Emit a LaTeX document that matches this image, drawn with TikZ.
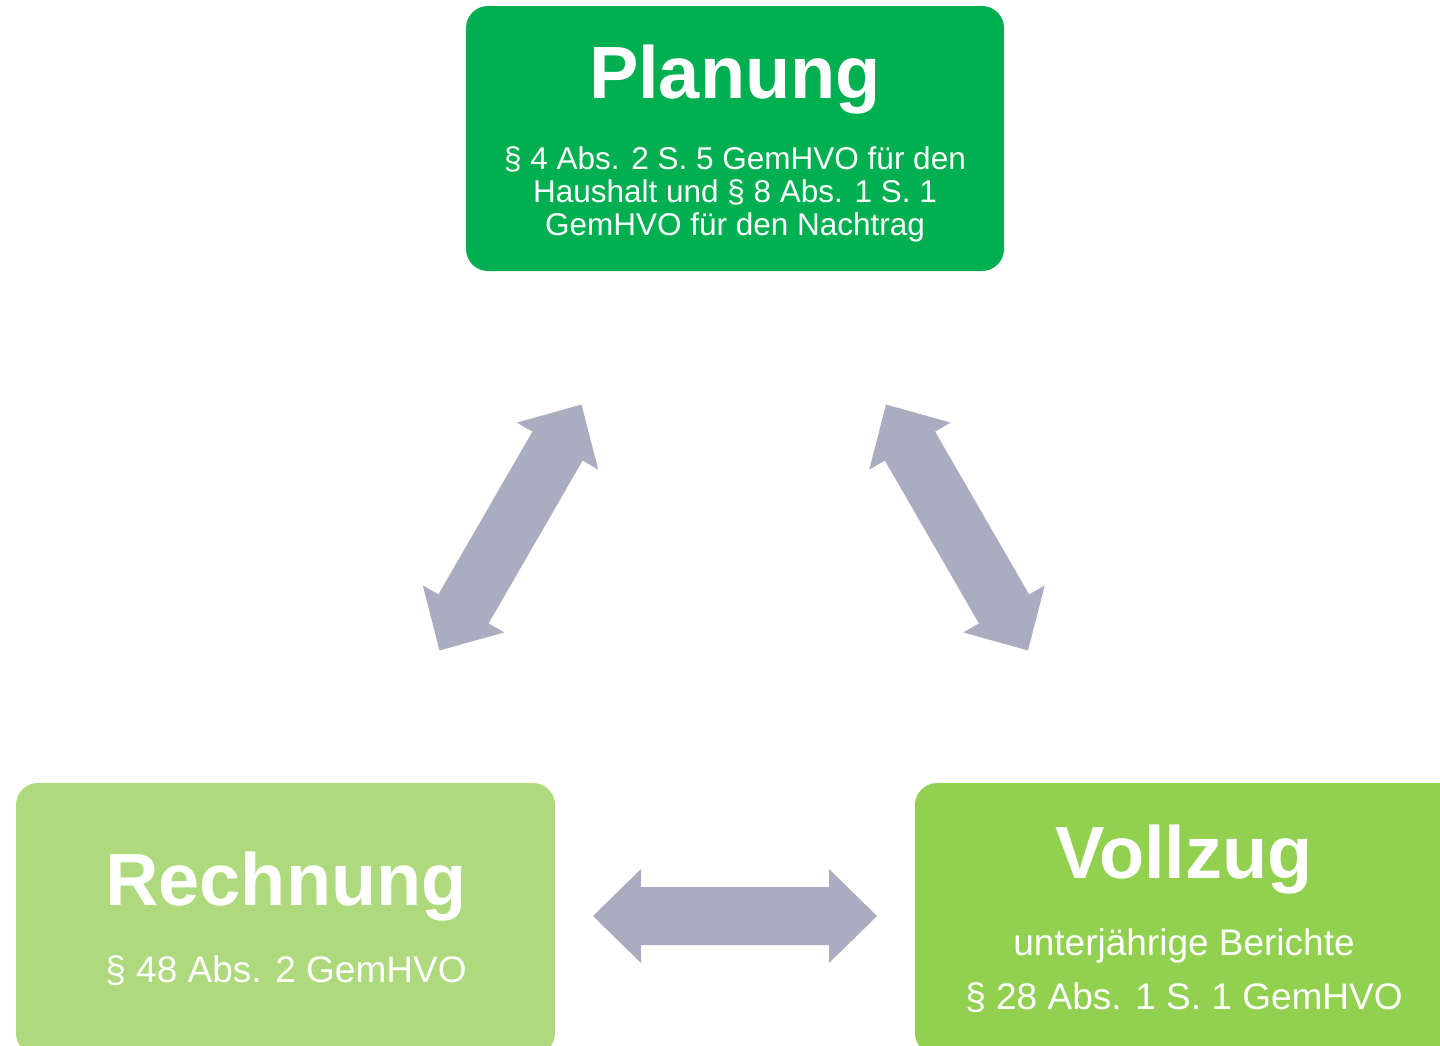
\documentclass[tikz,border=0pt]{standalone}
\usepackage{fontspec}
\setmainfont{Liberation Sans}
\definecolor{planungc}{HTML}{00B050}
\definecolor{rechnungc}{HTML}{AEDA7D}
\definecolor{vollzugc}{HTML}{92D050}
\definecolor{arrowc}{HTML}{AAADBF}
\tikzset{
  box/.style={rounded corners=22pt, inner sep=0pt, draw=none},
  titletext/.style={text=white, inner sep=0pt, anchor=base, font=\bfseries\fontsize{74}{80}\selectfont},
  subsmall/.style={text=white, inner sep=0pt, anchor=base, font=\fontsize{31.5}{34}\selectfont},
  subbig/.style={text=white, inner sep=0pt, anchor=base, font=\fontsize{37}{41}\selectfont},
  dblarrow/.pic={
    \fill[arrowc] (-142,0) -- (-94,47) -- (-94,29) -- (94,29) -- (94,47) -- (142,0)
      -- (94,-47) -- (94,-29) -- (-94,-29) -- (-94,-47) -- cycle;
  }
}
\begin{document}
\begin{tikzpicture}[x=1pt,y=-1pt]
\useasboundingbox (0,0) rectangle (1440,1045);
\clip (0,0) rectangle (1440,1045);
\fill[white] (0,0) rectangle (1440,1045);
% boxes
\node[box, fill=planungc, minimum width=538pt, minimum height=265pt] (planung) at (735,138.5) {};
\node[box, fill=rechnungc, minimum width=539pt, minimum height=272pt] (rechnung) at (285.5,919) {};
\node[box, fill=vollzugc, minimum width=545pt, minimum height=272pt] (vollzug) at (1187.5,919) {};
% texts
\node[titletext] (ptitle) at (735,98) {Planung};
\node[subsmall] (p1) at (735,169) {§ 4 Abs. 2 S. 5 GemHVO für den};
\node[subsmall] (p2) at (735,202) {Haushalt und § 8 Abs. 1 S. 1};
\node[subsmall] (p3) at (735,235) {GemHVO für den Nachtrag};
\node[titletext] (rtitle) at (286,905) {Rechnung};
\node[subbig] (r1) at (286,982) {§ 48 Abs. 2 GemHVO};
\node[titletext] (vtitle) at (1184,878) {Vollzug};
\node[subbig] (v1) at (1184,955) {unterjährige Berichte};
\node[subbig] (v2) at (1184,1009) {§ 28 Abs. 1 S. 1 GemHVO};
% arrows
\pic[rotate=60] at (510.5,527.5) {dblarrow};
\pic[rotate=-60] at (957,527.5) {dblarrow};
\pic at (735,916) {dblarrow};
\end{tikzpicture}
\end{document}
